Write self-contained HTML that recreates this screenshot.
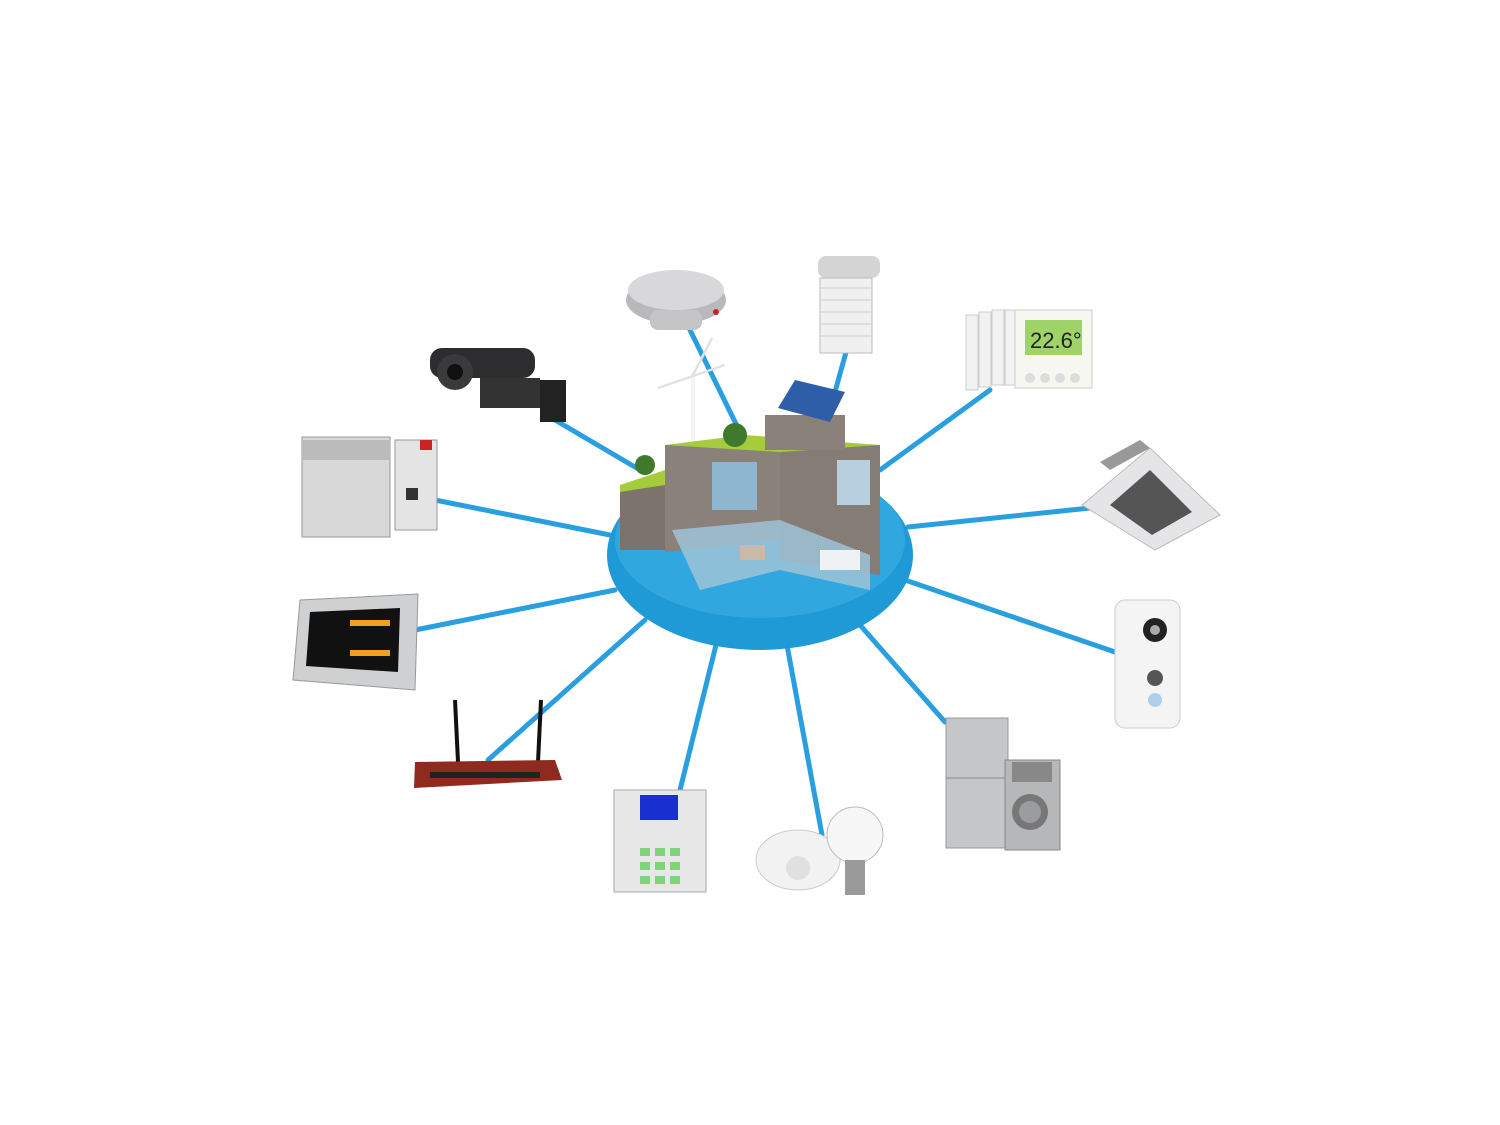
<!DOCTYPE html>
<html><head><meta charset="utf-8"><style>html,body{margin:0;padding:0;background:#fff}svg{display:block}</style></head>
<body>
<svg width="1500" height="1125" viewBox="0 0 1500 1125" xmlns="http://www.w3.org/2000/svg" font-family="Liberation Sans, sans-serif">
<rect width="1500" height="1125" fill="#fff"/>
<g stroke="#2a9fe0" stroke-width="5" stroke-linecap="round">
<line x1="555" y1="420" x2="640" y2="470"/>
<line x1="690" y1="330" x2="738" y2="428"/>
<line x1="848" y1="345" x2="830" y2="410"/>
<line x1="990" y1="390" x2="880" y2="470"/>
<line x1="1090" y1="508" x2="908" y2="527"/>
<line x1="1115" y1="652" x2="905" y2="580"/>
<line x1="945" y1="722" x2="860" y2="625"/>
<line x1="822" y1="835" x2="787" y2="645"/>
<line x1="680" y1="790" x2="716" y2="645"/>
<line x1="488" y1="760" x2="645" y2="620"/>
<line x1="415" y1="630" x2="615" y2="590"/>
<line x1="435" y1="500" x2="610" y2="535"/>
</g>
<!-- platform -->
<ellipse cx="760" cy="555" rx="153" ry="95" fill="#1f9ad6"/>
<ellipse cx="760" cy="540" rx="145" ry="78" fill="#3db0e4" opacity="0.6"/>
<!-- wind turbine -->
<line x1="693" y1="372" x2="693" y2="445" stroke="#f4f4f4" stroke-width="4"/>
<line x1="658" y1="388" x2="725" y2="365" stroke="#e2e2e2" stroke-width="2.5"/>
<line x1="693" y1="375" x2="712" y2="338" stroke="#e2e2e2" stroke-width="2.5"/>
<!-- house -->
<polygon points="620,485 665,480 665,550 620,550" fill="#7d736d"/>
<polygon points="665,445 780,440 780,540 665,552" fill="#8a817b"/>
<polygon points="780,440 880,445 880,575 780,560" fill="#857c76"/>
<polygon points="665,445 745,435 880,445 780,452" fill="#a6cc3e"/>
<polygon points="620,485 665,470 665,485 620,492" fill="#a6cc3e"/>
<rect x="765" y="415" width="80" height="35" fill="#8a817b"/>
<polygon points="778,408 795,380 845,392 830,422" fill="#2f5ea8"/>
<rect x="712" y="462" width="45" height="48" fill="#8fb6cf"/>
<rect x="837" y="460" width="33" height="45" fill="#b8cfe0"/>
<polygon points="672,530 780,520 870,555 870,590 780,570 700,590" fill="#9fc3d8" opacity="0.85"/>
<rect x="740" y="545" width="25" height="15" fill="#c9b9a6"/>
<rect x="820" y="550" width="40" height="20" fill="#eef2f5"/>
<circle cx="735" cy="435" r="12" fill="#3f7a2c"/><circle cx="645" cy="465" r="10" fill="#3f7a2c"/>
<!-- camera -->
<g><rect x="430" y="348" width="105" height="30" rx="12" fill="#2d2d2f"/><circle cx="455" cy="372" r="18" fill="#3a3a3d"/><circle cx="455" cy="372" r="8" fill="#111"/><rect x="480" y="378" width="60" height="30" fill="#333"/><rect x="540" y="380" width="26" height="42" fill="#222"/></g>
<!-- smoke detector -->
<ellipse cx="676" cy="300" rx="50" ry="24" fill="#b9b9bb"/><ellipse cx="676" cy="290" rx="48" ry="20" fill="#d8d8da"/><rect x="650" y="310" width="52" height="20" rx="8" fill="#c5c5c7"/><circle cx="716" cy="312" r="3" fill="#c22"/>
<!-- shutter -->
<rect x="818" y="256" width="62" height="22" rx="8" fill="#d4d4d4"/>
<g fill="#f0f0f0" stroke="#bbb" stroke-width="1"><rect x="820" y="278" width="52" height="75"/></g>
<g stroke="#ccc"><line x1="820" y1="288" x2="872" y2="288"/><line x1="820" y1="300" x2="872" y2="300"/><line x1="820" y1="312" x2="872" y2="312"/><line x1="820" y1="324" x2="872" y2="324"/><line x1="820" y1="336" x2="872" y2="336"/></g>
<!-- radiator & thermostat -->
<g fill="#f2f2f2" stroke="#ccc"><rect x="966" y="315" width="12" height="75"/><rect x="979" y="312" width="12" height="75"/><rect x="992" y="310" width="12" height="75"/><rect x="1005" y="310" width="12" height="75"/></g>
<rect x="1015" y="310" width="77" height="78" fill="#f7f7f2" stroke="#ccc"/><rect x="1025" y="320" width="57" height="35" fill="#9fd36a"/>
<text x="1030" y="348" font-size="22" fill="#222">22.6°</text>
<g fill="#ddd"><circle cx="1030" cy="378" r="5"/><circle cx="1045" cy="378" r="5"/><circle cx="1060" cy="378" r="5"/><circle cx="1075" cy="378" r="5"/></g>
<!-- AC cassette -->
<polygon points="1082,505 1150,448 1220,515 1155,550" fill="#e5e5e7" stroke="#bbb"/>
<polygon points="1110,505 1150,470 1192,512 1152,535" fill="#555"/>
<polygon points="1100,462 1140,440 1150,448 1110,470" fill="#999"/>
<!-- doorbell -->
<rect x="1115" y="600" width="65" height="128" rx="10" fill="#f4f4f4" stroke="#ccc"/><circle cx="1155" cy="630" r="12" fill="#222"/><circle cx="1155" cy="630" r="5" fill="#aaa"/><circle cx="1155" cy="678" r="8" fill="#555"/><circle cx="1155" cy="700" r="7" fill="#b0d0ea"/>
<!-- fridge and washer -->
<rect x="946" y="718" width="62" height="130" fill="#c4c6c8" stroke="#999"/><line x1="946" y1="778" x2="1008" y2="778" stroke="#888"/>
<rect x="1005" y="760" width="55" height="90" fill="#b5b7b9" stroke="#888"/><circle cx="1030" cy="812" r="18" fill="#777"/><circle cx="1030" cy="812" r="11" fill="#9a9ca0"/>
<rect x="1012" y="762" width="40" height="20" fill="#888"/>
<!-- motion sensor and bulb -->
<ellipse cx="798" cy="860" rx="42" ry="30" fill="#f2f2f2" stroke="#ccc"/><circle cx="798" cy="868" r="12" fill="#e0e0e0"/>
<circle cx="855" cy="835" r="28" fill="#f7f7f7" stroke="#bbb"/><rect x="845" y="860" width="20" height="35" fill="#9a9a9a"/>
<!-- alarm keypad -->
<rect x="614" y="790" width="92" height="102" fill="#e7e7e7" stroke="#aaa"/><rect x="640" y="795" width="38" height="25" fill="#1a2fd0"/>
<g fill="#7fd37a"><rect x="640" y="848" width="10" height="8"/><rect x="655" y="848" width="10" height="8"/><rect x="670" y="848" width="10" height="8"/><rect x="640" y="862" width="10" height="8"/><rect x="655" y="862" width="10" height="8"/><rect x="670" y="862" width="10" height="8"/><rect x="640" y="876" width="10" height="8"/><rect x="655" y="876" width="10" height="8"/><rect x="670" y="876" width="10" height="8"/></g>
<!-- router -->
<line x1="455" y1="700" x2="458" y2="762" stroke="#111" stroke-width="4"/><line x1="541" y1="700" x2="538" y2="762" stroke="#111" stroke-width="4"/>
<polygon points="415,762 555,760 562,780 414,788" fill="#8e2a1e"/><rect x="430" y="772" width="110" height="6" fill="#222"/>
<!-- touch panel -->
<polygon points="300,600 418,594 415,690 293,680" fill="#cfd0d2" stroke="#999"/><polygon points="310,612 400,608 398,672 306,666" fill="#111"/>
<g fill="#f0a020"><rect x="350" y="620" width="40" height="6"/><rect x="350" y="650" width="40" height="6"/></g>
<!-- KNX modules -->
<rect x="302" y="437" width="88" height="100" fill="#d8d8d8" stroke="#999"/><rect x="302" y="440" width="88" height="20" fill="#bbb"/>
<rect x="395" y="440" width="42" height="90" fill="#e4e4e4" stroke="#999"/><rect x="406" y="488" width="12" height="12" fill="#333"/><rect x="420" y="440" width="12" height="10" fill="#c22"/>
</svg>
</body></html>
